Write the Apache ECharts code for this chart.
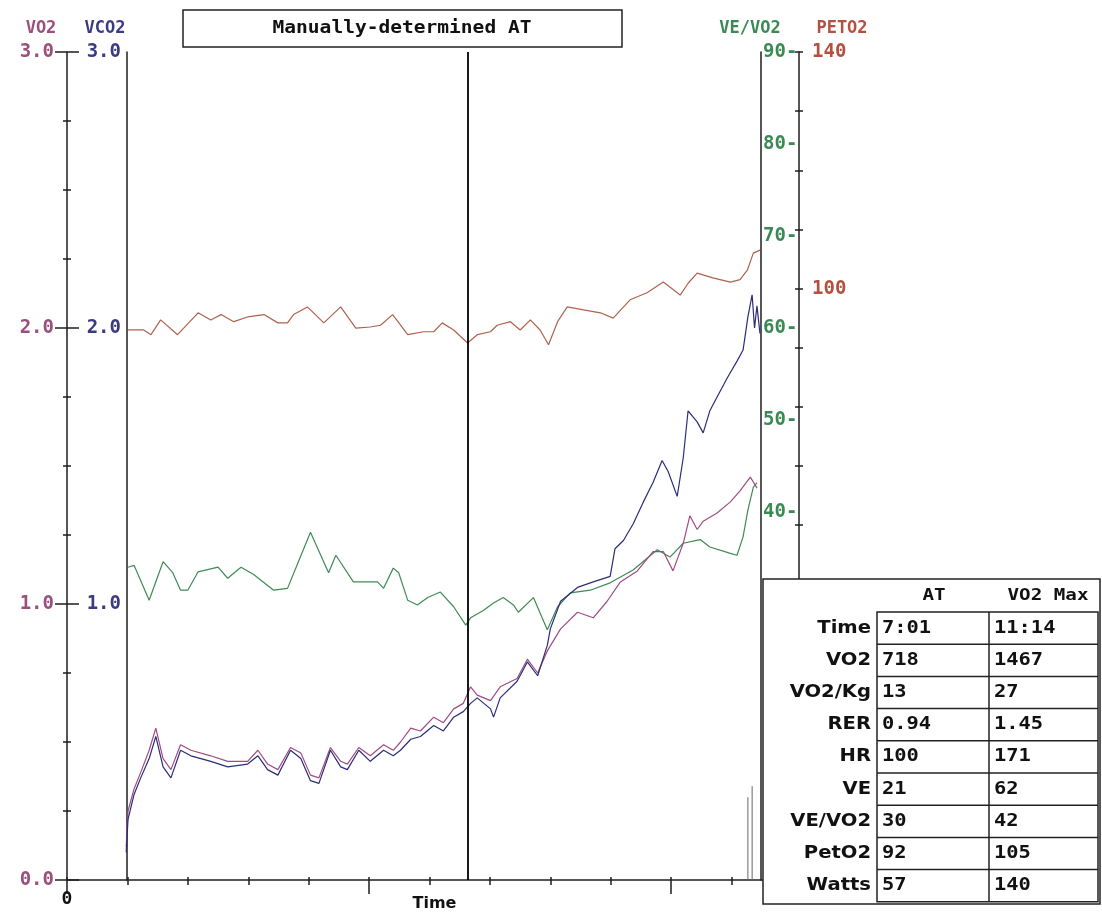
<!DOCTYPE html>
<html>
<head>
<meta charset="utf-8">
<script src="https://cdn.jsdelivr.net/npm/echarts@6/dist/echarts.min.js"></script>
<style>
  html, body { margin: 0; padding: 0; background: #ffffff; }
  #chart { width: 1102px; height: 914px; }
</style>
</head>
<body>
<div id="chart"></div>
<script>
// Cardiopulmonary exercise test trend: VO2, VCO2 (L/min), VE/VO2 and PETO2 against time (min)

const MONO = '"DejaVu Sans Mono", monospace';
const SANS = '"DejaVu Sans", sans-serif';

// time axis (minutes)
const timeMin = 0;
const timeMax = 12;
const timeLabelValues = [0, 12];
const atLineTime = 6.64;

// VO2 (L/min) : [time, value]
const vo2 = [
  [0.98, 0.12], [1.01, 0.25], [1.11, 0.33], [1.22, 0.39], [1.36, 0.47], [1.47, 0.55],
  [1.59, 0.44], [1.72, 0.40], [1.88, 0.49], [2.05, 0.47], [2.38, 0.45], [2.66, 0.43],
  [2.99, 0.43], [3.16, 0.47], [3.32, 0.42], [3.49, 0.40], [3.70, 0.48], [3.87, 0.46],
  [4.03, 0.38], [4.17, 0.37], [4.36, 0.48], [4.53, 0.43], [4.64, 0.42], [4.83, 0.48],
  [5.02, 0.45], [5.24, 0.49], [5.40, 0.47], [5.52, 0.50], [5.69, 0.55], [5.85, 0.54],
  [6.07, 0.59], [6.23, 0.57], [6.40, 0.62], [6.56, 0.64], [6.68, 0.70], [6.79, 0.67],
  [7.01, 0.65], [7.17, 0.70], [7.45, 0.73], [7.62, 0.80], [7.79, 0.75], [7.95, 0.83],
  [8.17, 0.91], [8.45, 0.97], [8.71, 0.95], [8.94, 1.01], [9.16, 1.08], [9.44, 1.12],
  [9.70, 1.19], [9.87, 1.19], [10.03, 1.12], [10.20, 1.22], [10.31, 1.32], [10.43, 1.27],
  [10.53, 1.30], [10.76, 1.33], [10.98, 1.37], [11.14, 1.41], [11.31, 1.46], [11.42, 1.42]
];

// VCO2 (L/min) : [time, value]
const vco2 = [
  [0.98, 0.10], [1.01, 0.22], [1.11, 0.31], [1.22, 0.37], [1.36, 0.44], [1.47, 0.52],
  [1.59, 0.41], [1.72, 0.37], [1.88, 0.47], [2.05, 0.45], [2.38, 0.43], [2.66, 0.41],
  [2.99, 0.42], [3.16, 0.45], [3.32, 0.40], [3.49, 0.38], [3.70, 0.47], [3.87, 0.44],
  [4.03, 0.36], [4.17, 0.35], [4.36, 0.47], [4.53, 0.41], [4.64, 0.40], [4.83, 0.47],
  [5.02, 0.43], [5.24, 0.47], [5.40, 0.45], [5.52, 0.47], [5.69, 0.51], [5.85, 0.52],
  [6.07, 0.56], [6.23, 0.54], [6.40, 0.59], [6.56, 0.61], [6.68, 0.64], [6.79, 0.66],
  [7.01, 0.62], [7.06, 0.59], [7.17, 0.66], [7.45, 0.72], [7.62, 0.79], [7.79, 0.74],
  [7.95, 0.85], [8.00, 0.91], [8.17, 1.01], [8.45, 1.06], [8.71, 1.08], [8.99, 1.10],
  [9.07, 1.20], [9.21, 1.23], [9.37, 1.29], [9.54, 1.37], [9.70, 1.44], [9.85, 1.52],
  [9.95, 1.48], [10.10, 1.39], [10.20, 1.53], [10.28, 1.70], [10.43, 1.66], [10.53, 1.62],
  [10.64, 1.70], [10.76, 1.75], [10.93, 1.82], [11.09, 1.88], [11.19, 1.92], [11.27, 2.04],
  [11.34, 2.12], [11.38, 2.00], [11.42, 2.08], [11.47, 1.98]
];

// VE/VO2 : [time, value]
const veVo2 = [
  [1.01, 34.0], [1.11, 34.2], [1.36, 30.4], [1.59, 34.6], [1.75, 33.4], [1.88, 31.5],
  [2.00, 31.5], [2.17, 33.5], [2.50, 34.0], [2.66, 32.8], [2.88, 34.0], [3.09, 33.2],
  [3.42, 31.5], [3.65, 31.7], [3.83, 34.6], [4.03, 37.8], [4.20, 35.3], [4.33, 33.4],
  [4.45, 35.3], [4.74, 32.4], [5.14, 32.4], [5.24, 31.7], [5.40, 33.9], [5.49, 33.4],
  [5.64, 30.4], [5.80, 29.9], [5.97, 30.7], [6.18, 31.3], [6.40, 29.7], [6.60, 27.7],
  [6.68, 28.5], [6.89, 29.3], [7.06, 30.1], [7.22, 30.7], [7.39, 29.9], [7.47, 29.1],
  [7.72, 30.7], [7.95, 27.2], [8.12, 29.7], [8.33, 31.2], [8.66, 31.5], [8.99, 32.3],
  [9.37, 33.7], [9.77, 35.9], [9.98, 35.1], [10.20, 36.6], [10.48, 37.0], [10.64, 36.2],
  [10.98, 35.5], [11.09, 35.3], [11.19, 37.3], [11.27, 40.2], [11.36, 42.7], [11.42, 43.2]
];

// PETO2 (mmHg) : [time, value]
const petO2 = [
  [1.01, 93.0], [1.27, 93.0], [1.39, 92.2], [1.55, 94.7], [1.83, 92.2], [2.17, 95.9],
  [2.38, 94.7], [2.55, 95.6], [2.76, 94.4], [2.99, 95.2], [3.26, 95.6], [3.49, 94.2],
  [3.65, 94.2], [3.75, 95.6], [3.98, 96.9], [4.25, 94.2], [4.53, 96.9], [4.78, 93.3],
  [5.02, 93.5], [5.19, 93.8], [5.39, 95.6], [5.64, 92.2], [5.90, 92.7], [6.07, 92.7],
  [6.21, 94.2], [6.40, 93.0], [6.63, 90.8], [6.79, 92.2], [7.01, 92.7], [7.12, 93.8],
  [7.34, 94.4], [7.50, 93.0], [7.67, 94.7], [7.83, 93.0], [7.97, 90.5], [8.12, 94.4],
  [8.28, 96.9], [8.55, 96.4], [8.83, 95.9], [9.04, 95.0], [9.32, 98.1], [9.60, 99.3],
  [9.87, 101.1], [10.15, 98.9], [10.28, 100.9], [10.43, 102.6], [10.69, 101.8], [10.98, 101.1],
  [11.14, 101.5], [11.26, 103.1], [11.36, 106.0], [11.47, 106.5]
];

// short end-of-test marker strokes (time, height on the VO2 scale)
const endMarks = [[11.27, 0.30], [11.34, 0.34]];

// summary table
const tableColumns = ['AT', 'VO2 Max'];
const tableRowLabels = ['Time', 'VO2', 'VO2/Kg', 'RER', 'HR', 'VE', 'VE/VO2', 'PetO2', 'Watts'];
const atValues = ['7:01', '718', '13', '0.94', '100', '21', '30', '92', '57'];
const maxValues = ['11:14', '1467', '27', '1.45', '171', '62', '42', '105', '140'];

const titleText = 'Manually-determined AT';
const axisNames = { vo2: 'VO2', vco2: 'VCO2', veVo2: 'VE/VO2', petO2: 'PETO2' };

const C = {
  axis: '#1e1e1e',
  vo2Text: '#9a4f7d', vco2Text: '#3b3b82', veText: '#3b8a55', petText: '#b4503f',
  vo2Line: '#a04c82', vco2Line: '#2c2c78', veLine: '#3f8a55', petLine: '#b0624c'
};

const chart = echarts.init(document.getElementById('chart'), null, { renderer: 'canvas' });

const labelFont = { fontFamily: MONO, fontWeight: 'bold', fontSize: 19 };
const tickStyle = { color: C.axis, width: 1.5 };

function series(name, data, yAxisIndex, color, extra) {
  return Object.assign({
    name, type: 'line', data, xAxisIndex: 0, yAxisIndex,
    showSymbol: false, symbol: 'none', smooth: false, animation: false,
    lineStyle: { color, width: 1.2 }, z: 3
  }, extra || {});
}

// axis that only contributes tick marks (no line, no labels)
function tickAxis(base, tick, minor) {
  return Object.assign({
    type: 'value',
    axisLine: { show: false, onZero: false },
    axisLabel: { show: false },
    splitLine: { show: false },
    axisTick: Object.assign({ show: true, lineStyle: tickStyle }, tick),
    minorTick: minor ? Object.assign({ show: true, lineStyle: tickStyle }, minor) : { show: false }
  }, base);
}

// summary table graphics
const T = { x: 763, y: 579, w: 337, h: 325, gridX: 877, colX: 989, right: 1098, top: 612, rowH: 32.2 };
const tableEls = [];
tableEls.push({ type: 'rect', z: 100, shape: { x: T.x, y: T.y, width: T.w, height: T.h },
  style: { fill: '#ffffff', stroke: '#222', lineWidth: 1.5 } });
tableEls.push({ type: 'rect', z: 101, shape: { x: T.gridX, y: T.top, width: T.right - T.gridX, height: T.rowH * tableRowLabels.length },
  style: { fill: 'none', stroke: '#222', lineWidth: 1.5 } });
tableEls.push({ type: 'line', z: 101, shape: { x1: T.colX, y1: T.top, x2: T.colX, y2: T.top + T.rowH * tableRowLabels.length },
  style: { stroke: '#222', lineWidth: 1.5 } });
for (let i = 1; i < tableRowLabels.length; i++) {
  const yy = T.top + T.rowH * i;
  tableEls.push({ type: 'line', z: 101, shape: { x1: T.gridX, y1: yy, x2: T.right, y2: yy },
    style: { stroke: '#222', lineWidth: 1.5 } });
}
const headFont = 'bold 16px ' + MONO;
tableEls.push({ type: 'text', z: 102, x: 934, y: 596, scaleX: 1.2,
  style: { text: tableColumns[0], font: headFont, fill: '#111', align: 'center', verticalAlign: 'middle' } });
tableEls.push({ type: 'text', z: 102, x: 1048, y: 596, scaleX: 1.2,
  style: { text: tableColumns[1], font: headFont, fill: '#111', align: 'center', verticalAlign: 'middle' } });
tableRowLabels.forEach((lab, i) => {
  const cy = T.top + T.rowH * (i + 0.5);
  tableEls.push({ type: 'text', z: 102, x: 871, y: cy, scaleX: 1.15,
    style: { text: lab, font: 'bold 17px ' + SANS, fill: '#111', align: 'right', verticalAlign: 'middle' } });
  tableEls.push({ type: 'text', z: 102, x: 882, y: cy, scaleX: 1.2,
    style: { text: atValues[i], font: 'bold 17px ' + MONO, fill: '#111', align: 'left', verticalAlign: 'middle' } });
  tableEls.push({ type: 'text', z: 102, x: 994, y: cy, scaleX: 1.2,
    style: { text: maxValues[i], font: 'bold 17px ' + MONO, fill: '#111', align: 'left', verticalAlign: 'middle' } });
});

// title box and axis captions
const headerEls = [
  { type: 'rect', z: 50, shape: { x: 183, y: 10, width: 439, height: 37 },
    style: { fill: '#ffffff', stroke: '#222', lineWidth: 1.5 } },
  { type: 'text', z: 51, x: 402, y: 29, scaleX: 1.15,
    style: { text: titleText, font: 'bold 17px ' + MONO, fill: '#111', align: 'center', verticalAlign: 'middle' } },
  { type: 'text', z: 51, x: 41, y: 29,
    style: { text: axisNames.vo2, font: 'bold 17px ' + MONO, fill: C.vo2Text, align: 'center', verticalAlign: 'middle' } },
  { type: 'text', z: 51, x: 105, y: 29,
    style: { text: axisNames.vco2, font: 'bold 17px ' + MONO, fill: C.vco2Text, align: 'center', verticalAlign: 'middle' } },
  { type: 'text', z: 51, x: 750, y: 29,
    style: { text: axisNames.veVo2, font: 'bold 17px ' + MONO, fill: C.veText, align: 'center', verticalAlign: 'middle' } },
  { type: 'text', z: 51, x: 842, y: 29,
    style: { text: axisNames.petO2, font: 'bold 17px ' + MONO, fill: C.petText, align: 'center', verticalAlign: 'middle' } }
];

const option = {
  backgroundColor: '#ffffff',
  animation: false,
  grid: { left: 67, top: 52, right: 310, bottom: 34, containLabel: false, outerBoundsMode: 'none' },
  xAxis: [
    {
      type: 'value', position: 'bottom', min: timeMin, max: timeMax, interval: 1,
      axisLine: { show: true, onZero: false, lineStyle: { color: C.axis, width: 1.5 } },
      axisTick: { show: true, length: 5, lineStyle: tickStyle },
      splitLine: { show: false },
      axisLabel: {
        show: true, margin: 10, color: '#111', fontFamily: MONO, fontWeight: 'bold', fontSize: 18,
        showMinLabel: true, showMaxLabel: true,
        formatter: v => (timeLabelValues.indexOf(v) >= 0 ? String(v) : '')
      },
      name: 'Time', nameLocation: 'middle', nameGap: 16, nameMoveOverlap: false,
      nameTextStyle: { color: '#111', fontFamily: SANS, fontWeight: 'bold', fontSize: 16, padding: [0, 0, 0, 10] }
    },
    tickAxis({ position: 'bottom', min: timeMin, max: timeMax, interval: 5 }, { length: 14 }),
    tickAxis({ position: 'bottom', min: timeMin, max: timeMax, interval: 1 }, { inside: true, length: 3 })
  ],
  yAxis: [
    { // VO2
      type: 'value', position: 'left', offset: 0, min: 0, max: 3, interval: 1,
      axisLine: { show: true, onZero: false, lineStyle: { color: C.axis, width: 1.5 } },
      axisTick: { show: true, length: 12, lineStyle: tickStyle },
      minorTick: { show: true, splitNumber: 4, length: 4, lineStyle: tickStyle },
      splitLine: { show: false }, minorSplitLine: { show: false },
      axisLabel: Object.assign({ color: C.vo2Text, margin: 13, formatter: v => v.toFixed(1) }, labelFont)
    },
    // VO2 inner tick marks
    tickAxis({ position: 'left', offset: 0, min: 0, max: 3, interval: 1 },
      { inside: true, length: 12 }, { splitNumber: 4, length: 4 }),
    { // VCO2
      type: 'value', position: 'left', offset: -60, min: 0, max: 3, interval: 1,
      axisLine: { show: true, onZero: false, lineStyle: { color: C.axis, width: 1.5 } },
      axisTick: { show: false }, splitLine: { show: false },
      axisLabel: Object.assign({ color: C.vco2Text, margin: 6, formatter: v => (v === 0 ? '' : v.toFixed(1)) }, labelFont)
    },
    { // VE/VO2
      type: 'value', position: 'right', offset: -31, min: 0, max: 90, interval: 10,
      axisLine: { show: true, onZero: false, lineStyle: { color: C.axis, width: 1.5 } },
      axisTick: { show: false }, splitLine: { show: false },
      axisLabel: Object.assign({ color: C.veText, margin: 2, formatter: v => (v === 0 ? '' : v + '-') }, labelFont)
    },
    { // PETO2
      type: 'value', position: 'right', offset: 7, min: 0, max: 140, interval: 10,
      axisLine: { show: true, onZero: false, lineStyle: { color: C.axis, width: 1.5 } },
      axisTick: { show: true, length: 4, lineStyle: tickStyle },
      splitLine: { show: false },
      axisLabel: Object.assign({ color: C.petText, margin: 13, formatter: v => (v === 140 || v === 100 ? String(v) : '') }, labelFont)
    },
    // PETO2 inner tick marks
    tickAxis({ position: 'right', offset: 7, min: 0, max: 140, interval: 10 }, { inside: true, length: 4 })
  ],
  series: [
    series('PETO2', petO2, 4, C.petLine),
    series('VE/VO2', veVo2, 3, C.veLine),
    series('VO2', vo2, 0, C.vo2Line, {
      markLine: {
        silent: true, symbol: 'none', label: { show: false }, animation: false,
        lineStyle: { color: '#000', width: 1.8, type: 'solid' },
        data: [{ xAxis: atLineTime }]
      }
    }),
    series('VCO2', vco2, 2, C.vco2Line),
    ...endMarks.map((m, i) => series('end' + i, [[m[0], 0], [m[0], m[1]]], 0, '#666', { lineStyle: { color: '#666', width: 1 } }))
  ],
  graphic: { elements: headerEls.concat(tableEls) }
};

chart.setOption(option);
</script>
</body>
</html>
